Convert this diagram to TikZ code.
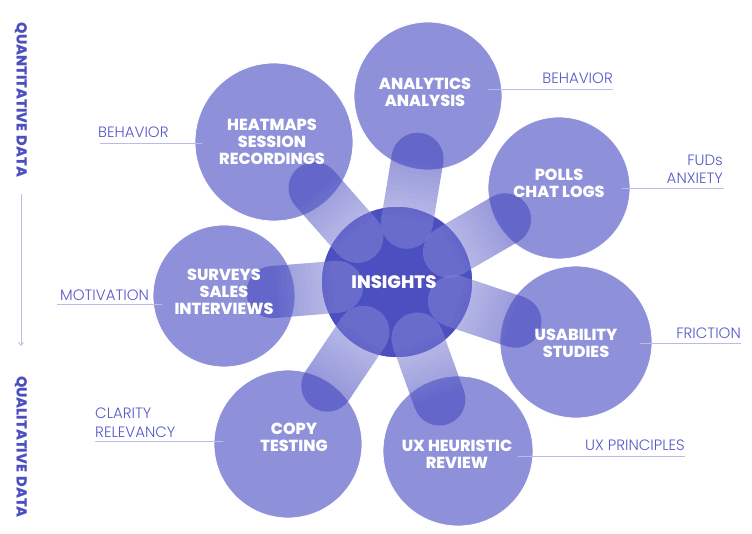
\documentclass[tikz,border=0pt]{standalone}
\usepackage{fontspec}
\setmainfont{Poppins}
\newfontfamily\lightfont{Poppins Light}
\newfontfamily\heavyfont{Poppins ExtraBold}
\usetikzlibrary{calc,arrows.meta}
\pgfdeclarelayer{bg}
\pgfsetlayers{bg,main}
\definecolor{outerc}{HTML}{8E91DA}
\definecolor{innerc}{HTML}{4C4FC0}
\definecolor{capd}{HTML}{4346BC}
\definecolor{capl}{HTML}{8385D6}
\definecolor{labc}{HTML}{5558C8}
\definecolor{rulec}{HTML}{B9BBEB}
\begin{document}
\begin{tikzpicture}[x=1pt,y=-1pt,
  outercirc/.style={circle,fill=outerc,draw=white,line width=0.8pt,minimum size=#1,inner sep=0pt},
  innercirc/.style={circle,fill=innerc,draw=white,line width=1.5pt,minimum size=#1,inner sep=0pt},
  capround/.style={line width=52pt,line cap=round},
  capseg/.style={line width=52pt,line cap=butt},
  ctext/.style={text=white,font=\heavyfont\fontsize{16}{17}\selectfont,align=center,inner sep=0pt},
  itext/.style={text=white,font=\heavyfont\fontsize{18}{20}\selectfont,align=center,inner sep=0pt},
  labtext/.style={text=labc,font=\lightfont\fontsize{15}{18.5}\selectfont,inner sep=0pt},
  rulel/.style={draw=rulec,line width=0.8pt},
  sidetext/.style={text=innerc,font=\heavyfont\fontsize{14.5}{16}\selectfont,rotate=-90,inner sep=0pt}]
\useasboundingbox (0,0) rectangle (752,534);

% circles
\begin{pgfonlayer}{bg}
  \node[outercirc=158pt] (heat) at (274,142) {};
  \node[outercirc=148pt] (anal) at (428,96) {};
  \node[outercirc=142pt] (poll) at (559,188) {};
  \node[outercirc=152pt] (usab) at (576,342) {};
  \node[outercirc=150pt] (uxh) at (458,451) {};
  \node[outercirc=148pt] (copy) at (288,444) {};
  \node[outercirc=142pt] (surv) at (224,296) {};
  \node[innercirc=152pt] (ins) at (397,282) {};
\end{pgfonlayer}

% capsules (connectors from INSIGHTS to each source), shaded from light (inner) to dark (outer)
\foreach \n in {heat,anal,poll,usab,uxh,copy,surv}{
  \begin{scope}[transparency group,opacity=0.55]
    \draw[capround,draw=capl] ($(ins)!60pt!(\n)$) -- ($(ins)!61pt!(\n)$);
    \draw[capround,draw=capd] ($(ins)!124pt!(\n)$) -- ($(ins)!125pt!(\n)$);
    \foreach \i in {0,...,12}{
      \pgfmathsetmacro\da{60+5*\i}
      \pgfmathsetmacro\db{65.6+5*\i}
      \pgfmathsetmacro\pc{100*\i/12}
      \draw[capseg,draw=capd!\pc!capl] ($(ins)!\da pt!(\n)$) -- ($(ins)!\db pt!(\n)$);
    }
  \end{scope}
}

% circle texts
\node[ctext] (heat-t) at ($(heat)+(-2,0)$) {HEATMAPS\\SESSION\\RECORDINGS};
\node[ctext] (anal-t) at ($(anal)+(-3,-4)$) {ANALYTICS\\ANALYSIS};
\node[ctext] (poll-t) at ($(poll)+(0,-5)$) {POLLS\\CHAT LOGS};
\node[ctext] (usab-t) at ($(usab)+(0,1)$) {USABILITY\\STUDIES};
\node[ctext] (uxh-t) at ($(uxh)+(-1,3)$) {UX HEURISTIC\\REVIEW};
\node[ctext] (copy-t) at ($(copy)+(6,-7)$) {COPY\\TESTING};
\node[ctext] (surv-t) at ($(surv)+(0,-4)$) {SURVEYS\\SALES\\INTERVIEWS};
\node[itext] (ins-t) at ($(ins)+(-3,0)$) {INSIGHTS};

% side labels
\node[labtext,anchor=base west] (l1) at (98,138) {BEHAVIOR};
\coordinate (l1a) at (100,143); \coordinate (l1b) at (202,143);
\draw[rulel] (l1a) -- (l1b);

\node[labtext,anchor=base east] (l2) at (613,84) {BEHAVIOR};
\coordinate (l2a) at (488,89); \coordinate (l2b) at (613,89);
\draw[rulel] (l2a) -- (l2b);

\node[labtext,anchor=base east,align=right] (l3) at (723,184) {FUDs\\ANXIETY};
\coordinate (l3a) at (622,188); \coordinate (l3b) at (724,188);
\draw[rulel] (l3a) -- (l3b);

\node[labtext,anchor=base west] (l4) at (60,301) {MOTIVATION};
\coordinate (l4a) at (57,304); \coordinate (l4b) at (162,304);
\draw[rulel] (l4a) -- (l4b);

\node[labtext,anchor=base west,align=left] (l5) at (95,437) {CLARITY\\RELEVANCY};
\coordinate (l5a) at (95,441); \coordinate (l5b) at (223,441);
\draw[rulel] (l5a) -- (l5b);

\node[labtext,anchor=base east] (l6) at (741,338) {FRICTION};
\coordinate (l6a) at (640,343); \coordinate (l6b) at (741,343);
\draw[rulel] (l6a) -- (l6b);

\node[labtext,anchor=base east] (l7) at (685,450) {UX PRINCIPLES};
\coordinate (l7a) at (518,456); \coordinate (l7b) at (685,456);
\draw[rulel] (l7a) -- (l7b);

% vertical axis
\node[sidetext] (qn) at (21,100) {QUANTITATIVE\hspace{0.3em}DATA};
\node[sidetext] (ql) at (21,447) {QUALITATIVE\hspace{0.3em}DATA};
\coordinate (ax1) at (21,194); \coordinate (ax2) at (21,346);
\draw[rulel,-{Straight Barb[length=3pt,width=5pt]}] (ax1) -- (ax2);
\end{tikzpicture}
\end{document}
